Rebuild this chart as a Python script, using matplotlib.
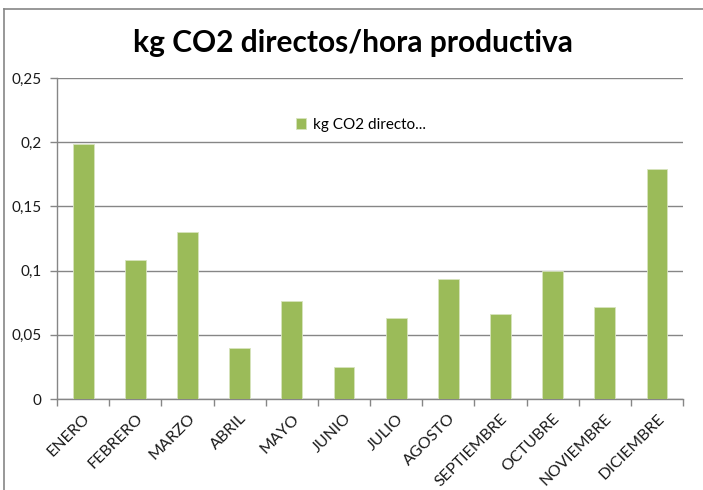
import matplotlib
matplotlib.use("Agg")
import matplotlib.pyplot as plt
from matplotlib.lines import Line2D
from matplotlib.ticker import FuncFormatter, FixedLocator
import numpy as np

# monthly values
meses = ["ENERO", "FEBRERO", "MARZO", "ABRIL", "MAYO", "JUNIO", "JULIO",
         "AGOSTO", "SEPTIEMBRE", "OCTUBRE", "NOVIEMBRE", "DICIEMBRE"]
kg_co2 = [0.1986, 0.1085, 0.130, 0.0395, 0.0766, 0.0247, 0.0628,
          0.0932, 0.066, 0.0999, 0.0719, 0.1794]
yticks = [0, 0.05, 0.1, 0.15, 0.2, 0.25]

plt.rcParams["font.family"] = ["Lato", "DejaVu Sans"]
green = "#9BBB59"
grey = "#868686"

fig = plt.figure(figsize=(7.03, 4.90), dpi=100)
ax = fig.add_axes([0.0811, 0.1857, 0.8905, 0.6551])

x = np.arange(len(meses))
ax.bar(x, kg_co2, width=0.4, color=green, edgecolor="#D7E4BD", linewidth=0.6,
       label="kg CO2 directo...", zorder=3)

ax.set_xlim(-0.5, len(meses) - 0.5)
ax.set_ylim(0, 0.25)
ax.set_yticks(yticks)
ax.yaxis.set_major_formatter(FuncFormatter(lambda v, p: ("%g" % round(v, 2)).replace(".", ",")))
ax.grid(axis="y", color=grey, linewidth=1.0, zorder=0)

ax.set_xticks(x)
ax.set_xticklabels(meses, rotation=45, ha="right", rotation_mode="anchor",
                   fontsize=11.5, color="#1a1a1a")
ax.xaxis.set_minor_locator(FixedLocator(np.arange(-0.5, len(meses), 1)))
ax.tick_params(axis="x", which="major", length=0, pad=9)
ax.tick_params(axis="x", which="minor", length=5, color=grey, width=1)
ax.tick_params(axis="y", length=5, color=grey, width=1, labelsize=11,
               labelcolor="#1a1a1a", pad=6)

for s in ["top", "right"]:
    ax.spines[s].set_visible(False)
for s in ["left", "bottom"]:
    ax.spines[s].set_color(grey)
    ax.spines[s].set_linewidth(1.0)

fig.text(0.502, 0.912, "kg CO2 directos/hora productiva", ha="center", va="center",
         fontsize=21.5, fontweight="bold", color="black")

ax.legend(loc="center", bbox_to_anchor=(0.485, 0.855), frameon=False, fontsize=11,
          handlelength=0.7, handleheight=0.7, handletextpad=0.4)

# chart border (top and left edge visible)
fig.add_artist(Line2D([4 / 703, 1], [1 - 9 / 490, 1 - 9 / 490], color=grey, linewidth=1.2))
fig.add_artist(Line2D([4 / 703, 4 / 703], [0, 1 - 9 / 490], color=grey, linewidth=1.2))

fig.savefig("out.png", dpi=100, facecolor="white")
